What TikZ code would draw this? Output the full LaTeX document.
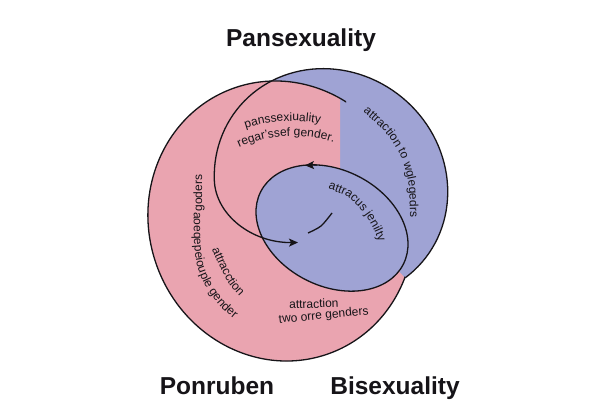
\documentclass[tikz,border=0pt]{standalone}
\usepackage{fontspec}
\setmainfont{Liberation Sans}
\usetikzlibrary{arrows.meta,decorations.text}
\definecolor{pinkfill}{RGB}{234,164,176}
\definecolor{bluefill}{RGB}{159,163,212}
\definecolor{ink}{RGB}{22,20,24}
\newcommand{\lbf}{\fontsize{12}{14}\selectfont}
\newcommand{\bluepath}{plot[domain=12.5:-220,samples=80,variable=\t] ({331+120*cos(\t)*cos(40)-112*sin(\t)*sin(40)},{184+120*cos(\t)*sin(40)+112*sin(\t)*cos(40)}) .. controls (215.5,215) and (252,243) .. (298,242.5)}
\begin{document}
\begin{tikzpicture}[x=1pt,y=-1pt,
  outline/.style={draw=ink,line width=1.3pt,line join=round},
  titletext/.style={font=\fontsize{24.5}{28}\selectfont\bfseries,text=ink,inner sep=0pt},
  labtext/.style={font=\lbf,text=ink,inner sep=0pt},
  tipped/.style={-{Stealth[length=9pt,width=8pt,inset=2pt]}},
  ctext/.style={decorate,decoration={text along path,text align=center,text color=ink,text={|\lbf|#1}}},
  ltext/.style={decorate,decoration={text along path,text align=left,text color=ink,text={|\lbf|#1}}}
]
\useasboundingbox (0,0) rectangle (600,420);
\fill[white] (0,0) rectangle (600,420);

% pink region
\fill[pinkfill,rotate around={-70:(281,221)}] (281,221) ellipse[x radius=141,y radius=132];
% blue region
\fill[bluefill] \bluepath -- (375,245) -- cycle;
\begin{scope}
  \clip (0,0) rectangle (340,420);
  \fill[pinkfill,rotate around={-70:(281,221)}] (281,221) ellipse[x radius=141,y radius=132];
\end{scope}
% inner oval
\fill[bluefill,rotate around={-27:(332,228)}] (332,228) ellipse[x radius=80,y radius=58];

% outlines
\begin{scope}
  \clip (0,0) -- (346,0) -- (346,106) -- (405,277) -- (600,277) -- (600,420) -- (0,420) -- cycle;
  \draw[outline,rotate around={-70:(281,221)}] (281,221) ellipse[x radius=141,y radius=132];
\end{scope}
\draw[outline,rotate around={-27:(332,228)}] (332,228) ellipse[x radius=80,y radius=58];
\draw[outline,tipped] (317,164.9) -- (305,165.4);
\draw[outline,tipped] \bluepath;
\draw[outline] plot[smooth] coordinates {(308,233) (321,226) (332,213)};

% titles
\node[titletext,anchor=base] (tpan) at (301,47) {Pansexuality};
\node[titletext,anchor=base] (tpon) at (217,394) {Ponruben};
\node[titletext,anchor=base] (tbi) at (395,394) {Bisexuality};

% curved labels
\path[ctext={panssexiuality}] (293,270) ++(-124:149) arc[start angle=-124,end angle=-64,radius=149];
\path[ctext={regar’ssef gender.}] (293,270) ++(-123:134) arc[start angle=-123,end angle=-63,radius=134];
\path[ltext={attraction to wglegedrs}] plot[smooth] coordinates {(363,112) (385,132) (400,155) (408,181) (410,210) (410,240)};
\path[ltext={attracus jenilty}] plot[smooth] coordinates {(328,189) (346,196) (361,210) (373,228) (382,250) (386,262)};
\path[ltext={attracction}] plot[smooth] coordinates {(212,249) (219,265) (229,284) (243,300) (257,312)};
\path[ltext={aoeqepeiouple gender}] plot[smooth] coordinates {(194,212) (194,240) (197,265) (206,287) (220,306) (237,321) (251,330)};
\node[labtext,rotate=90] (lgod) at (199,193) {goders};

% bottom labels
\node[labtext,anchor=base,rotate=2] (lat) at (314,308) {attraction};
\node[labtext,anchor=base,rotate=5.5] (ltwo) at (324,319) {two orre genders};
\end{tikzpicture}
\end{document}
